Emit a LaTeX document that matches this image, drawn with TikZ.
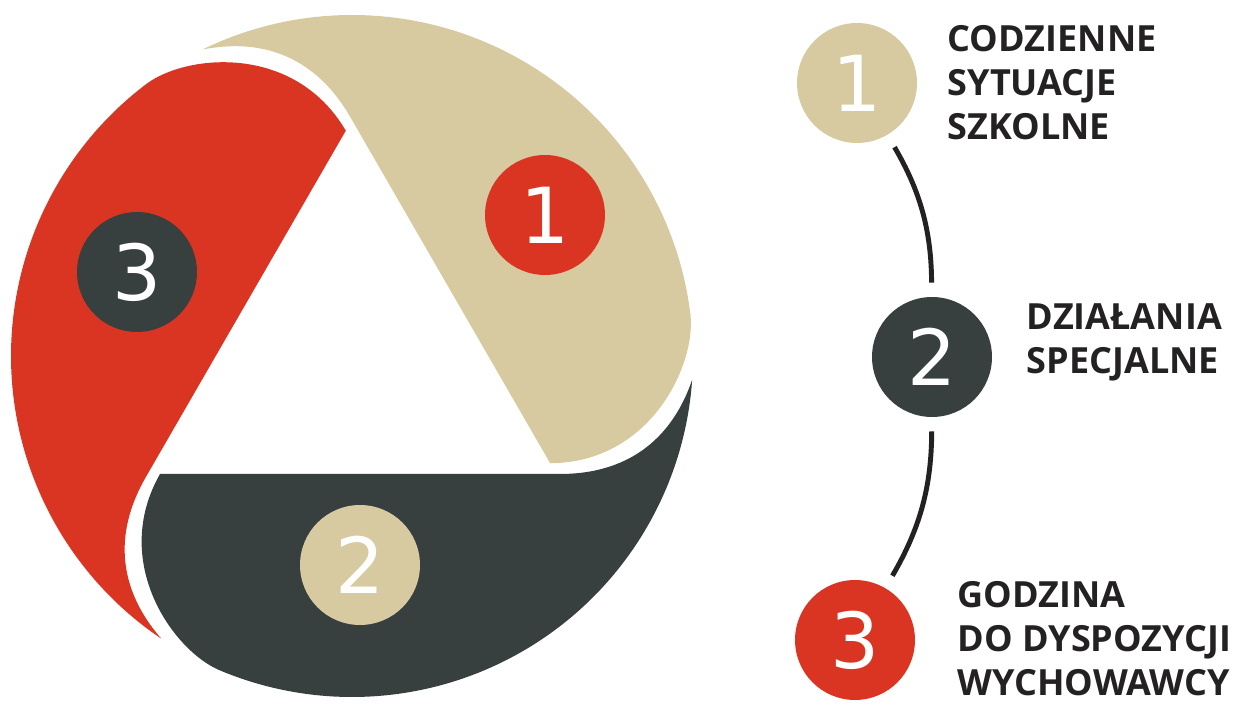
\documentclass[tikz,border=0pt]{standalone}
\usepackage{fontspec}
\setmainfont{Open Sans}
\newfontfamily\digitfont{DejaVu Sans}
\usetikzlibrary{positioning}

\definecolor{TanC}{RGB}{215,202,160}
\definecolor{RedC}{RGB}{218,53,34}
\definecolor{DarkC}{RGB}{55,64,63}
\definecolor{InkC}{RGB}{35,33,34}

\begin{document}
\begin{tikzpicture}[
                    x=0.02cm, y=0.02cm,
                    node distance = 0.6cm,
                    num/.style = {circle, minimum size=2.4cm, inner sep=0pt, text=white,
                                  font=\digitfont\fontsize{44}{44}\selectfont},
                    lab/.style = {anchor=west, align=left, inner sep=0pt, text=InkC,
                                  font=\fontsize{20.5}{25}\selectfont\bfseries},
                    link/.style = {line width=2.8pt, color=InkC, shorten >=0.28cm, shorten <=0.28cm}
                    ]

\useasboundingbox (0,0) rectangle (1249,707);

% three blades of the ring, each turned by 120 degrees
\foreach \ang/\col in {0/DarkC, 120/TanC, 240/RedC}
  \fill[\col, shift={(352,351)}, rotate=\ang]
    (-192,-118) -- (208,-118) .. controls (264,-118) and (316,-94) .. (-4:341)
    arc[start angle=-4, end angle=-113, radius=341]
    .. controls (-179,-294) and (-242,-206) .. cycle;

\node[num, fill=RedC]  (c1) at (545,492) {1};
\node[num, fill=TanC]  (c2) at (360,142) {2};
\node[num, fill=DarkC] (c3) at (137,435) {3};

% legend
\node[num, fill=TanC]  (n1) at (857,624) {1};
\node[num, fill=DarkC] (n2) at (932,350) {2};
\node[num, fill=RedC]  (n3) at (855,67)  {3};

\node[lab, right=0.6cm of n1]                (l1) {CODZIENNE\\SYTUACJE\\SZKOLNE};
\node[lab, right=0.68cm of n2, yshift=0.3cm] (l2) {DZIAŁANIA\\SPECJALNE};
\node[lab, right=0.84cm of n3, yshift=0.02cm] (l3) {GODZINA\\DO DYSPOZYCJI\\WYCHOWAWCY};

\draw[link] (n1) to[bend left=15] (n2);
\draw[link] (n2) to[bend left=15] (n3);
\end{tikzpicture}
\end{document}
